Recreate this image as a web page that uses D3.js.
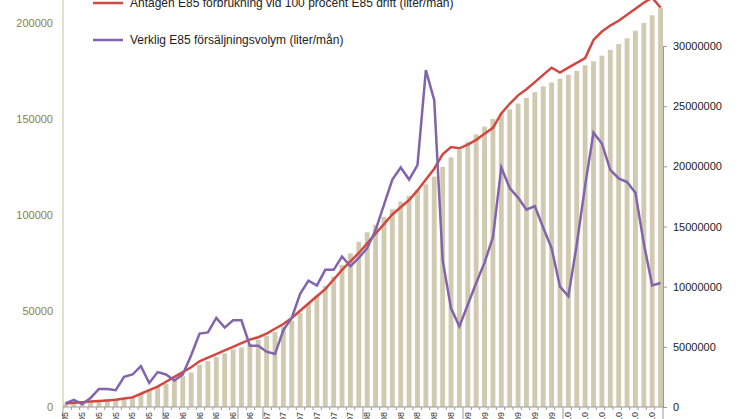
<!DOCTYPE html><html><head><meta charset="utf-8"><script src="https://cdn.jsdelivr.net/npm/d3@7"></script>
<style>body{margin:0;background:#fff}svg{font-family:"Liberation Sans",Arial,sans-serif}</style></head><body><svg id="c" width="746" height="419"></svg>
<script>
const bars=[1500,2000,2500,3000,3500,4000,4200,4700,5500,7000,9000,10400,12000,14000,16000,18000,22000,24000,26000,28000,30000,31000,33000,35000,37000,39000,42000,45000,49000,54000,58000,63000,68000,74000,80000,86000,91000,95000,99000,103000,107000,110000,113000,116000,120000,125000,130000,134000,138000,142000,146000,150000,153000,155000,158000,161000,164000,167000,169000,171000,173000,175000,178000,180000,183000,186000,189000,192000,196000,200000,204000,208000];
const redM=[.3,.35,.4,.45,.5,.55,.6,.7,.8,1.1,1.4,1.7,2.1,2.5,2.9,3.3,3.8,4.1,4.4,4.7,5.0,5.3,5.6,5.8,6.1,6.5,6.9,7.4,8.0,8.6,9.2,9.8,10.6,11.4,12.1,12.8,13.6,14.4,15.2,16.0,16.6,17.2,18.0,18.9,19.8,21.0,21.6,21.5,21.8,22.2,22.7,23.2,24.4,25.2,25.9,26.4,27.0,27.6,28.2,27.8,28.2,28.6,29.0,30.5,31.2,31.7,32.1,32.6,33.1,33.6,34.0,33.2];
const purpleM=[.3,.6,.25,.75,1.5,1.5,1.4,2.5,2.7,3.4,2.0,2.9,2.7,2.2,2.7,4.3,6.1,6.2,7.4,6.6,7.2,7.2,5.1,5.1,4.6,4.4,6.4,7.4,9.4,10.5,10.1,11.4,11.4,12.5,11.7,12.4,13.2,14.7,16.8,18.9,19.9,18.9,20.1,28.0,25.5,12.2,8.2,6.7,8.5,10.3,12.0,14.1,19.9,18.2,17.4,16.4,16.7,14.9,13.2,10.0,9.2,13.5,18.4,22.8,21.9,19.7,19.0,18.7,17.8,13.6,10.1,10.3];
const months=["jan","feb","mar","apr","maj","jun","jul","aug","sep","okt","nov","dec"];
const leftTicks=[0,50000,100000,150000,200000];
const rightTicks=[0,5000000,10000000,15000000,20000000,25000000,30000000];
const yearBreaks=[0,12,21,24,36,48,60,72];
const svg=d3.select("#c");
const x=d3.scaleBand().domain(d3.range(72)).range([63,663]).paddingInner(0.42);
const yL=d3.scaleLinear().domain([0,200000]).range([407,23]);
const yR=d3.scaleLinear().domain([0,30000000]).range([407,46]);
const cx=i=>x(i)+x.bandwidth()/2;
svg.append("g").selectAll("rect").data(bars).join("rect").attr("x",(d,i)=>x(i)).attr("width",x.bandwidth()).attr("y",d=>yL(d)).attr("height",d=>407-yL(d)).attr("fill","#d1cab0");
svg.append("line").attr("x1",63).attr("x2",63).attr("y1",0).attr("y2",407).attr("stroke","#c8bf96");
svg.append("g").selectAll("text").data(leftTicks).join("text").attr("x",53).attr("y",d=>yL(d)+4).attr("text-anchor","end").attr("font-size",11).attr("fill","#8f8046").text(d=>d);
const ra=svg.append("g").attr("transform","translate(663,0)").call(d3.axisRight(yR).tickValues(rightTicks).tickSize(4).tickFormat(d=>d));
ra.select(".domain").attr("stroke","#999");ra.selectAll("line").attr("stroke","#999");ra.selectAll("text").attr("font-size",11).attr("fill","#222").attr("x",10);
svg.append("line").attr("x1",63).attr("x2",663).attr("y1",407).attr("y2",407).attr("stroke","#999");
svg.append("g").selectAll("line").data(d3.range(73)).join("line").attr("x1",i=>63+i*600/72).attr("x2",i=>63+i*600/72).attr("y1",407).attr("y2",i=>yearBreaks.includes(i)?419:410).attr("stroke","#999");
svg.append("g").selectAll("text").data(d3.range(72).filter(i=>i%2==0)).join("text").attr("transform",i=>`translate(${cx(i)+3},${412}) rotate(-90)`).attr("text-anchor","end").attr("font-size",9).attr("fill","#333").text(i=>months[i%12]+"-0"+(5+Math.floor(i/12)));
const line=d3.line().x((d,i)=>cx(i)).y(d=>yR(d*1e6));
svg.append("path").datum(redM).attr("d",line).attr("fill","none").attr("stroke","#d2473f").attr("stroke-width",2.5);
svg.append("path").datum(purpleM).attr("d",line).attr("fill","none").attr("stroke","#8264ac").attr("stroke-width",2.5);
const leg=[["Antagen E85 förbrukning vid 100 procent E85 drift (liter/mån)","#d2473f",3],["Verklig E85 försäljningsvolym (liter/mån)","#8264ac",40]];
leg.forEach(([t,c,y])=>{svg.append("line").attr("x1",93).attr("x2",123).attr("y1",y).attr("y2",y).attr("stroke",c).attr("stroke-width",2.5);
svg.append("text").attr("x",130).attr("y",y+4).attr("font-size",12).attr("fill","#222").text(t);});
</script></body></html>
